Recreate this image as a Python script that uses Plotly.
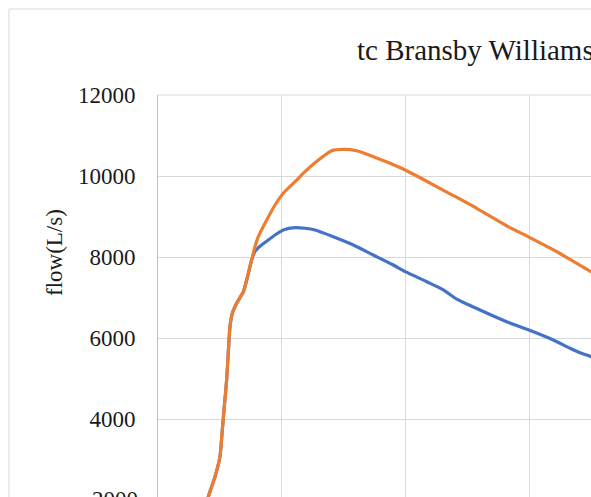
import plotly.graph_objects as go

# Data (x in grid units, flow in L/s)
x_orange = [0.20, 0.30, 0.38, 0.407, 0.461, 0.501, 0.520, 0.536, 0.555, 0.568, 0.582, 0.601, 0.636,
            0.663, 0.690, 0.717, 0.757, 0.784, 0.811, 0.865, 0.946, 1.013, 1.108, 1.188, 1.269,
            1.404, 1.498, 1.606, 1.741, 1.876, 1.999, 2.172, 2.361, 2.549, 2.819, 2.999, 3.223,
            3.500, 3.600]
flow_orange = [300, 800, 1750, 2082, 2576, 3070, 3729, 4304, 4963, 5630, 6279, 6610, 6857,
               7000, 7140, 7432, 7926, 8255, 8501, 8832, 9284, 9573, 9859, 10106, 10328,
               10625, 10659, 10625, 10477, 10314, 10148, 9870, 9560, 9250, 8770, 8490, 8131,
               7637, 7460]

x_blue = [0.20, 0.30, 0.38, 0.407, 0.461, 0.501, 0.520, 0.536, 0.555, 0.568, 0.582, 0.601, 0.636,
          0.663, 0.690, 0.717, 0.757, 0.784, 0.798, 0.825, 0.879, 0.946, 1.013, 1.108, 1.188,
          1.269, 1.417, 1.579, 1.740, 1.902, 1.999, 2.172, 2.306, 2.415, 2.603, 2.819, 2.999,
          3.196, 3.331, 3.411, 3.500, 3.600]
flow_blue = [300, 800, 1750, 2082, 2576, 3070, 3729, 4304, 4963, 5630, 6279, 6610, 6857,
             7000, 7140, 7432, 7926, 8140, 8190, 8265, 8390, 8543, 8667, 8724, 8709,
             8667, 8501, 8296, 8050, 7803, 7637, 7390, 7190, 6960, 6692, 6403, 6198,
             5951, 5746, 5637, 5539, 5420]

y_ticks = [2000, 4000, 6000, 8000, 10000, 12000]
y_tick_text = ["2000", "4000", "6000", "8000", "10000", "12000"]
title_text = "tc Bransby Williams"
y_title = "flow(L/s)"

FONT = "Liberation Serif"
TXT = "#1a1a1a"

fig = go.Figure()
fig.add_trace(go.Scatter(x=x_blue, y=flow_blue, mode="lines",
                         line=dict(color="#4472C4", width=3.2, shape="spline", smoothing=0.6),
                         showlegend=False, hoverinfo="skip"))
fig.add_trace(go.Scatter(x=x_orange, y=flow_orange, mode="lines",
                         line=dict(color="#ED7D31", width=3.2, shape="spline", smoothing=0.6),
                         showlegend=False, hoverinfo="skip"))

W, H = 591, 497
L, T = 158, 95
pw, ph = W - L, H - T

def px_x(p):  # page pixel -> paper x
    return (p - L) / pw

def px_y(p):  # page pixel -> paper y
    return (H - p) / ph

fig.update_layout(
    width=W, height=H,
    margin=dict(l=L, r=0, t=T, b=0, pad=0),
    paper_bgcolor="white", plot_bgcolor="white",
    font=dict(family=FONT, color=TXT),
    xaxis=dict(range=[0, pw / 123.7], dtick=1, tick0=0, showgrid=True,
               gridcolor="#D9D9D9", gridwidth=1, zeroline=False, showticklabels=False,
               ticks="", automargin=False),
    yaxis=dict(range=[2074, 12000], tickvals=y_ticks, ticktext=y_tick_text, showgrid=True,
               gridcolor="#D9D9D9", gridwidth=1, zeroline=False,
               showline=True, linecolor="#BFBFBF", linewidth=1,
               ticks="outside", ticklen=17, tickcolor="rgba(0,0,0,0)",
               tickfont=dict(family=FONT, size=23, color=TXT),
               automargin=False),
    shapes=[dict(type="rect", xref="paper", yref="paper",
                 x0=px_x(9), x1=1.2, y0=-0.2, y1=px_y(9),
                 line=dict(color="#D9D9D9", width=1), fillcolor="rgba(0,0,0,0)", layer="below"),
            dict(type="line", xref="paper", yref="paper", x0=0, x1=1, y0=1, y1=1,
                 line=dict(color="#D9D9D9", width=1), layer="below")],
    annotations=[
        dict(text=title_text, xref="paper", yref="paper", x=px_x(355), y=px_y(50),
             xanchor="left", yanchor="middle", showarrow=False,
             font=dict(family=FONT, size=29, color=TXT)),
        dict(text=y_title, xref="paper", yref="paper", x=px_x(54), y=px_y(253),
             xanchor="center", yanchor="middle", textangle=-90, showarrow=False,
             font=dict(family=FONT, size=23, color=TXT)),
        dict(text="2000", xref="paper", yref="paper", x=px_x(140), y=px_y(500),
             xanchor="right", yanchor="middle", showarrow=False,
             font=dict(family=FONT, size=23, color=TXT)),
    ],
)

fig.write_html(
    "out.html",
    config={"displayModeBar": False, "staticPlot": True},
    post_script="document.body.style.margin='0';document.body.style.overflow='hidden';"
                "document.documentElement.style.overflow='hidden';",
)
